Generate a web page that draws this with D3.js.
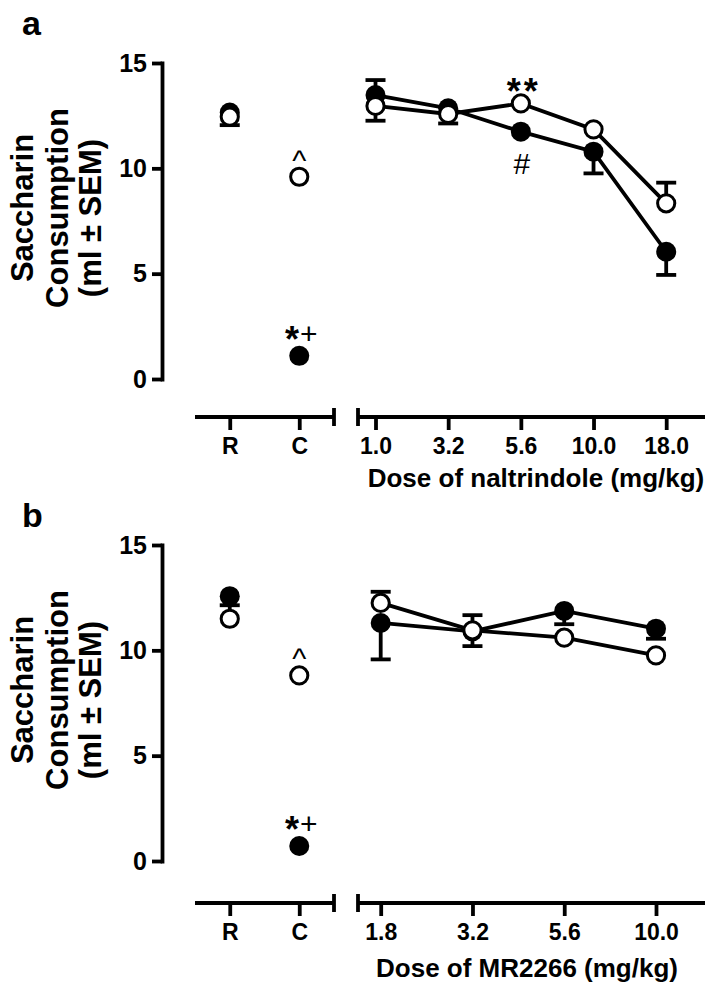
<!DOCTYPE html>
<html><head><meta charset="utf-8">
<script src="https://cdn.jsdelivr.net/npm/d3@7"></script>
<style>body{margin:0;background:#fff}svg{display:block}</style>
</head><body>
<svg id="chart" width="715" height="991"></svg>
<script>
// ---------- data ----------
const ctrlCats = ["R", "C"];
const dosesA = ["1.0", "3.2", "5.6", "10.0", "18.0"];
const dosesB = ["1.8", "3.2", "5.6", "10.0"];
const yTicks = [0, 5, 10, 15];

// panel a (naltrindole)
const ctrlFilledA = [12.65, 1.1];
const ctrlFilledErrA = [0, 0];
const ctrlOpenA = [12.45, 9.6];
const ctrlOpenErrA = [-0.4, 0];
const filledA = [13.48, 12.85, 11.74, 10.79, 6.04];
const filledErrA = [0.71, 0, 0, -1.03, -1.1];
const openA = [12.96, 12.58, 13.08, 11.85, 8.34];
const openErrA = [-0.7, -0.45, 0, 0, 0.98];

// panel b (MR2266)
const ctrlFilledB = [12.57, 0.71];
const ctrlFilledErrB = [0, 0];
const ctrlOpenB = [11.5, 8.81];
const ctrlOpenErrB = [0.64, 0];
const filledB = [11.3, 10.9, 11.87, 11.03];
const filledErrB = [-1.73, -0.7, -0.63, -0.48];
const openB = [12.25, 10.95, 10.6, 9.76];
const openErrB = [0.53, 0.72, 0, 0];

const yTitleLines = ["Saccharin", "Consumption", "(ml \u00B1 SEM)"];
const xTitleA = "Dose of naltrindole (mg/kg)";
const xTitleB = "Dose of MR2266 (mg/kg)";

// ---------- drawing ----------
const FONT = "'Liberation Sans', Arial, Helvetica, sans-serif";
const svg = d3.select("#chart");
const SW = 3.8;

function panel(o) {
  const g = svg.append("g").attr("transform", `translate(0,${o.dy})`);
  const y = d3.scaleLinear().domain([0, 15]).range([379, 63]);
  const xc = d3.scalePoint().domain(ctrlCats).range([195, 334]).padding(0.5);
  const xd = d3.scalePoint().domain(o.doses).range(o.doseRange);
  const axisY = o.axisY;

  // panel letter
  g.append("text").attr("x", 22).attr("y", 35 + o.letterDy).text(o.letter)
    .attr("font-family", FONT).attr("font-weight", "bold").attr("font-size", 34);

  // y title
  const yt = [[33, 208], [68, 208], [101, 218]];
  yTitleLines.forEach((t, i) => {
    g.append("text").attr("transform", `translate(${yt[i][0]},${yt[i][1]}) rotate(-90)`)
      .attr("text-anchor", "middle").attr("font-family", FONT).attr("font-weight", "bold")
      .attr("font-size", 31).text(t);
  });

  // y axis
  const ya = g.append("g").attr("transform", "translate(162,0)")
    .call(d3.axisLeft(y).tickValues(yTicks).tickSize(10).tickSizeOuter(0).tickPadding(5));
  ya.select(".domain").attr("stroke-width", SW).attr("stroke-linecap", "square");
  ya.selectAll(".tick line").attr("stroke-width", SW);
  ya.selectAll(".tick text").attr("font-family", FONT).attr("font-weight", "bold").attr("font-size", 25);

  // x axes (broken)
  function xaxis(scale, x0, x1, capLeft, capRight) {
    const a = g.append("g").attr("transform", `translate(0,${axisY})`)
      .call(d3.axisBottom(scale).tickSize(13).tickPadding(8));
    a.select(".domain").remove();
    a.selectAll(".tick line").attr("stroke-width", SW);
    a.selectAll(".tick text").attr("font-family", FONT).attr("font-weight", "bold").attr("font-size", 23);
    a.append("line").attr("x1", x0).attr("x2", x1).attr("y1", 0).attr("y2", 0)
      .attr("stroke", "#000").attr("stroke-width", SW + 0.4);
    if (capLeft) a.append("line").attr("x1", x0).attr("x2", x0).attr("y1", -9).attr("y2", 9).attr("stroke", "#000").attr("stroke-width", SW);
    if (capRight) a.append("line").attr("x1", x1).attr("x2", x1).attr("y1", -9).attr("y2", 9).attr("stroke", "#000").attr("stroke-width", SW);
  }
  xaxis(xc, 195, 334, false, true);
  xaxis(xd, 358, 705, true, false);

  g.append("text").attr("x", o.titleX).attr("y", axisY + o.titleDy).attr("text-anchor", "middle")
    .attr("font-family", FONT).attr("font-weight", "bold").attr("font-size", 26).text(o.xTitle);

  // series
  const series = [
    {ctrl: o.ctrlFilled, ctrlErr: o.ctrlFilledErr, vals: o.filled, err: o.filledErr, fill: "#000"},
    {ctrl: o.ctrlOpen, ctrlErr: o.ctrlOpenErr, vals: o.open, err: o.openErr, fill: "#fff"}
  ];
  const line = d3.line().x((d, i) => xd(o.doses[i])).y(d => y(d));
  series.forEach(s => {
    g.append("path").datum(s.vals).attr("d", line).attr("fill", "none")
      .attr("stroke", "#000").attr("stroke-width", SW);
  });
  function errbar(x, v, e) {
    if (!e) return;
    g.append("line").attr("x1", x).attr("x2", x).attr("y1", y(v)).attr("y2", y(v + e))
      .attr("stroke", "#000").attr("stroke-width", SW);
    g.append("line").attr("x1", x - 10).attr("x2", x + 10).attr("y1", y(v + e)).attr("y2", y(v + e))
      .attr("stroke", "#000").attr("stroke-width", SW);
  }
  series.forEach(s => {
    s.ctrl.forEach((v, i) => errbar(xc(ctrlCats[i]), v, s.ctrlErr[i]));
    s.vals.forEach((v, i) => errbar(xd(o.doses[i]), v, s.err[i]));
  });
  series.forEach(s => {
    const pts = s.ctrl.map((v, i) => [xc(ctrlCats[i]), y(v)])
      .concat(s.vals.map((v, i) => [xd(o.doses[i]), y(v)]));
    g.selectAll(null).data(pts).enter().append("circle")
      .attr("cx", d => d[0]).attr("cy", d => d[1])
      .attr("r", s.fill === "#000" ? 10 : 8.6)
      .attr("fill", s.fill).attr("stroke", "#000").attr("stroke-width", s.fill === "#000" ? 0 : 3);
  });

  // annotations
  const cx = xc("C");
  g.append("text").attr("x", cx).attr("y", y(o.ctrlOpen[1]) - 6).attr("text-anchor", "middle")
    .attr("font-family", FONT).attr("font-size", 30).text("^");
  const st = g.append("text").attr("x", cx + 2).attr("y", y(o.ctrlFilled[1]) - 4).attr("text-anchor", "middle")
    .attr("font-family", FONT);
  st.append("tspan").attr("font-weight", "bold").attr("font-size", 36).text("*");
  st.append("tspan").attr("font-size", 30).attr("dy", -8).attr("dx", 1).text("+");
  if (o.stars) {
    const xi = xd(o.stars);
    const idx = o.doses.indexOf(o.stars);
    g.append("text").attr("x", xi + 3).attr("y", y(o.open[idx]) + 1).attr("text-anchor", "middle")
      .attr("font-family", FONT).attr("font-weight", "bold").attr("font-size", 36)
      .attr("letter-spacing", 3).text("**");
    g.append("text").attr("x", xi + 1).attr("y", y(o.filled[idx]) + 42).attr("text-anchor", "middle")
      .attr("font-family", FONT).attr("font-size", 30).text("#");
  }
}

panel({dy: 0, axisY: 417, titleDy: 70, letterDy: 0, letter: "a", doses: dosesA, doseRange: [375.5, 666.2], titleX: 536, xTitle: xTitleA,
  ctrlFilled: ctrlFilledA, ctrlFilledErr: ctrlFilledErrA, ctrlOpen: ctrlOpenA, ctrlOpenErr: ctrlOpenErrA,
  filled: filledA, filledErr: filledErrA, open: openA, openErr: openErrA, stars: "5.6"});
panel({dy: 482, axisY: 421, titleDy: 74, letterDy: 10, letter: "b", doses: dosesB, doseRange: [380.7, 656], titleX: 527, xTitle: xTitleB,
  ctrlFilled: ctrlFilledB, ctrlFilledErr: ctrlFilledErrB, ctrlOpen: ctrlOpenB, ctrlOpenErr: ctrlOpenErrB,
  filled: filledB, filledErr: filledErrB, open: openB, openErr: openErrB, stars: null});
</script>
</body></html>
